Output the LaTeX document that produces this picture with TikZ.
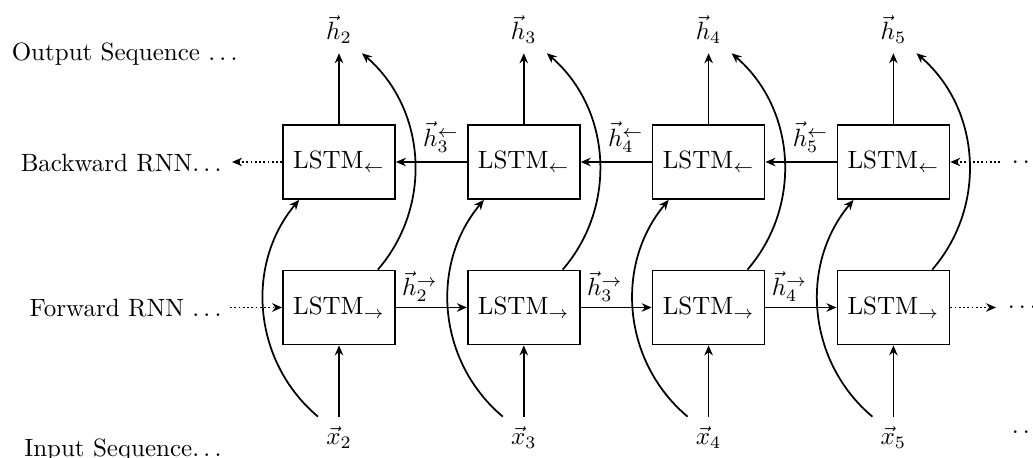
\documentclass[tikz,border=0pt]{standalone}
\usetikzlibrary{arrows.meta,calc}
\begin{document}
\begin{tikzpicture}[x=0.4pt,y=-0.4pt,
  cell/.style={draw, line width=0.7pt, minimum width=44.8pt, minimum height=29.6pt, inner sep=0pt},
  conn/.style={line width=0.7pt, -{Stealth[length=4pt,width=3.4pt]}},
  dotconn/.style={conn, densely dotted},
  outlab/.style={anchor=base, inner sep=3.6pt},
  inlab/.style={anchor=base, inner sep=4pt},
  edgelab/.style={inner sep=0pt},
  rowlab/.style={anchor=base east, inner sep=0pt},
  dotsnode/.style={anchor=west, inner sep=4.5pt},
]
\useasboundingbox (0,0) rectangle (1033,458);

% row labels
\node[rowlab] (tout) at (238,61) {Output Sequence $\ldots$};
\node[rowlab] (tback) at (222,172) {Backward RNN$\ldots$};
\node[rowlab] (tfwd) at (222,317) {Forward RNN $\ldots$};
\node[rowlab] (tin) at (222,457) {Input Sequence$\ldots$};

\foreach \i in {2,3,4,5}{
  \pgfmathsetmacro\cx{339+184.8*(\i-2)}
  \node[cell] (b\i) at (\cx,162) {LSTM$_{\leftarrow}$};
  \node[cell] (f\i) at (\cx,307.5) {LSTM$_{\rightarrow}$};
  \node[outlab] (o\i) at (\cx,40) {$\vec{h}_{\i}$};
  \node[inlab] (x\i) at (\cx,445) {$\vec{x}_{\i}$};
}
\foreach \i in {2,3,4,5}{
  \draw[conn] (b\i) -- (o\i);
  \draw[conn] (x\i) -- (f\i);
  \draw[conn] ($(x\i.north)+(-21,0)$) to[bend left=45] ($(b\i.south west)+(17,0)$);
  \draw[conn] ($(f\i.north east)+(-18,0)$) to[bend right=45] ($(o\i.south)+(23,0)$);
}
% horizontal recurrences
\foreach \i/\j in {2/3,3/4,4/5}{
  \draw[conn] (b\j) -- (b\i);
  \draw[conn] (f\i) -- (f\j);
  \pgfmathsetmacro\cx{339+184.8*(\i-2)}
  \node[edgelab] (lb\j) at (\cx+102,137) {$\vec{h}^{\leftarrow}_{\j}$};
  \node[edgelab] (lf\i) at (\cx+81,286.5) {$\vec{h}^{\rightarrow}_{\i}$};
}

% dotted ends
\draw[dotconn] (b2.west) -- ($(b2.west -| tback.east)+(10,0)$);
\draw[dotconn] ($(f2.west -| tfwd.east)+(8,0)$) -- (f2.west);
\node[dotsnode] (rb) at (1000,162) {$\ldots$};
\node[dotsnode] (rf) at (996,307.5) {$\ldots$};
\node[dotsnode] (ri) at (1000,432) {$\ldots$};
\draw[dotconn] (rb.west) -- (b5.east);
\draw[dotconn] (f5.east) -- (rf.west);
\end{tikzpicture}
\end{document}
